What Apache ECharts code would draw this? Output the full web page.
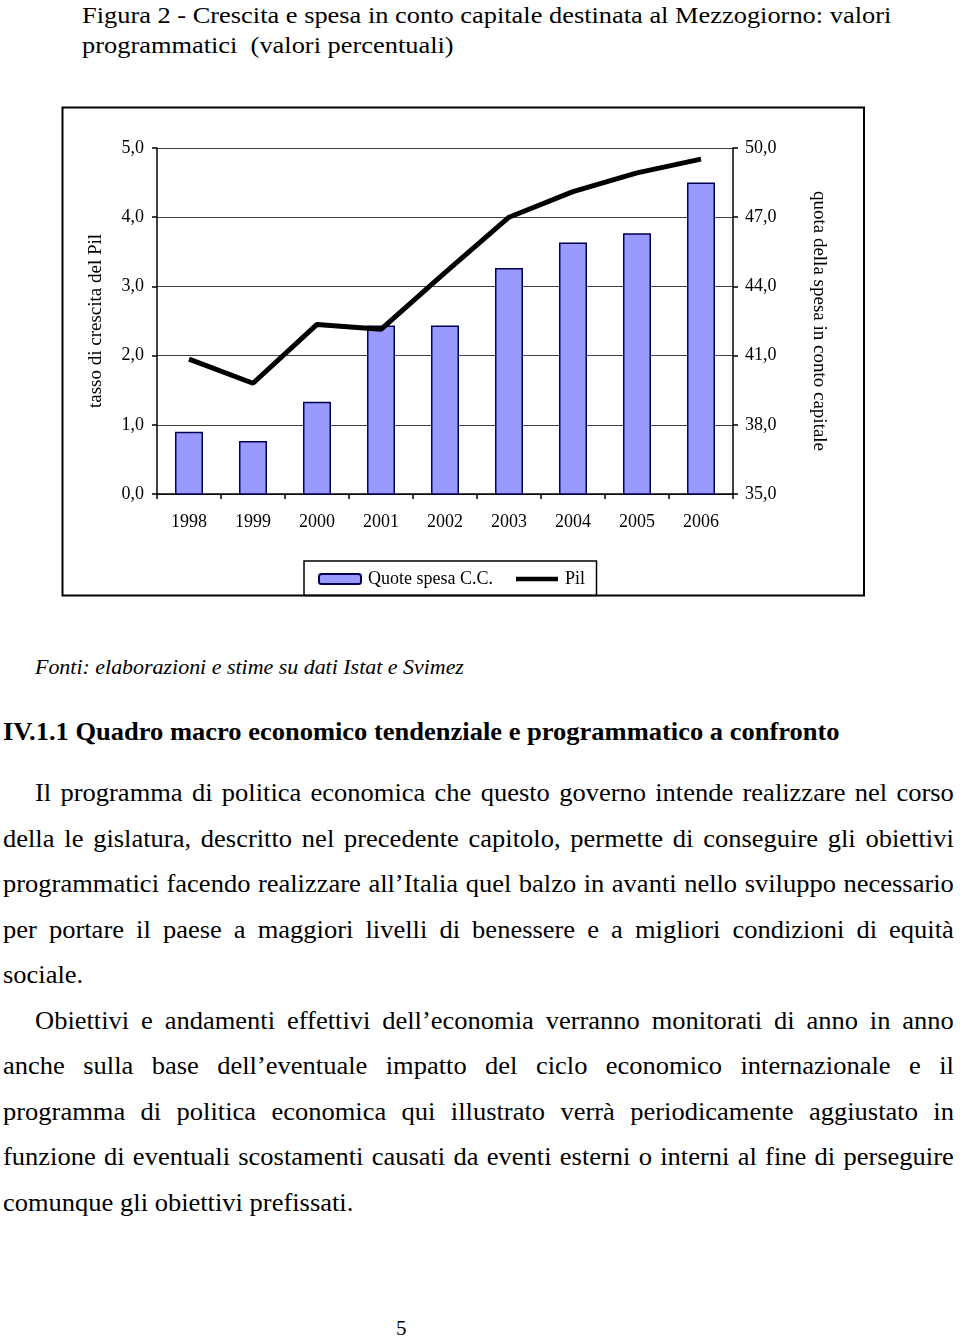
<!DOCTYPE html>
<html>
<head>
<meta charset="utf-8">
<script src="https://cdn.jsdelivr.net/npm/echarts@6/dist/echarts.min.js"></script>
<style>
  html, body { margin: 0; padding: 0; background: #fff; }
  body { width: 960px; height: 1336px; position: relative; overflow: hidden; font-family: 'Liberation Serif', 'Times New Roman', serif; color: #000; }
  #chart { position: absolute; left: 0; top: 0; width: 960px; height: 640px; }
  .abs { position: absolute; white-space: nowrap; transform-origin: 0 50%; }
  .title { left: 82px; top: 0px; font-size: 24px; line-height: 30px; transform: scaleX(1.1); }
  .fonti { left: 35px; top: 654px; font-size: 20.5px; line-height: 26px; font-style: italic; transform: scaleX(1.07); }
  .heading { left: 3px; top: 717px; font-size: 25px; line-height: 30px; font-weight: bold; transform: scaleX(1.06); }
  .line { position: absolute; display: flex; justify-content: space-between; font-size: 25px; line-height: 30px; white-space: nowrap; transform: scaleX(1.06); transform-origin: 0 50%; }
  .line.left { justify-content: flex-start; }
  .line.left span { margin-right: 0.25em; }
  .pagenum { left: 396px; top: 1315px; font-size: 21px; line-height: 26px; }
</style>
</head>
<body>
<div class="abs title">Figura 2 - Crescita e spesa in conto capitale destinata al Mezzogiorno: valori<br>programmatici&nbsp; (valori percentuali)</div>
<div id="chart"></div>
<div class="abs fonti">Fonti: elaborazioni e stime su dati Istat e Svimez</div>
<div class="abs heading">IV.1.1 Quadro macro economico tendenziale e programmatico a confronto</div>
<div id="text"></div>
<div class="abs pagenum">5</div>
<script>
// ---- chart data ----
const years = ['1998', '1999', '2000', '2001', '2002', '2003', '2004', '2005', '2006'];
const quoteSpesaCC = [37.7, 37.3, 39.0, 42.3, 42.3, 44.8, 45.9, 46.3, 48.5];
const pil = [1.95, 1.6, 2.45, 2.38, 3.2, 4.0, 4.37, 4.64, 4.84];
const leftTicks = { min: 0, max: 5, interval: 1 };
const rightTicks = { min: 35, max: 50, interval: 3 };

const serif = 'Liberation Serif';
const fmt = v => v.toFixed(1).replace('.', ',');

const chart = echarts.init(document.getElementById('chart'));
chart.setOption({
  animation: false,
  textStyle: { fontFamily: serif, color: '#000' },
  grid: { left: 157, right: 227, top: 148, bottom: 640 - 494, containLabel: false },
  legend: {
    left: 318, top: 570, padding: 0,
    itemWidth: 42, itemHeight: 10, itemGap: 23,
    textStyle: { fontFamily: serif, fontSize: 18, color: '#000', padding: [0, 0, 0, 2] },
    data: [
      { name: 'Quote spesa C.C.' },
      { name: 'Pil', icon: 'path://M0,0H46V5H0Z', itemStyle: { color: '#000' } }
    ]
  },
  xAxis: {
    type: 'category', data: years,
    axisLine: { lineStyle: { color: '#000', width: 1.5 } },
    axisTick: { show: true, length: 5, lineStyle: { color: '#000', width: 1.5 } },
    axisLabel: { fontFamily: serif, fontSize: 18, color: '#000', margin: 19 }
  },
  yAxis: [
    {
      type: 'value', position: 'left', min: leftTicks.min, max: leftTicks.max, interval: leftTicks.interval,
      name: 'tasso di crescita del Pil', nameLocation: 'middle', nameGap: 51, nameRotate: 90,
      nameTextStyle: { fontFamily: serif, fontSize: 19, color: '#000' },
      axisLine: { show: true, lineStyle: { color: '#000', width: 1.5 } },
      axisTick: { show: true, length: 5, lineStyle: { color: '#000', width: 1.5 } },
      axisLabel: { fontFamily: serif, fontSize: 18, color: '#000', margin: 13, formatter: fmt },
      splitLine: { show: true, lineStyle: { color: '#404040', width: 1 } }
    },
    {
      type: 'value', position: 'right', min: rightTicks.min, max: rightTicks.max, interval: rightTicks.interval,
      name: 'quota della spesa in conto capitale', nameLocation: 'middle', nameGap: 76, nameRotate: -90,
      nameTextStyle: { fontFamily: serif, fontSize: 19, color: '#000' },
      axisLine: { show: true, lineStyle: { color: '#000', width: 1.5 } },
      axisTick: { show: true, length: 5, lineStyle: { color: '#000', width: 1.5 } },
      axisLabel: { fontFamily: serif, fontSize: 18, color: '#000', margin: 12, formatter: fmt },
      splitLine: { show: false }
    }
  ],
  series: [
    {
      name: 'Quote spesa C.C.', type: 'bar', yAxisIndex: 1, data: quoteSpesaCC, barWidth: 28,
      itemStyle: { color: '#9999FF', borderColor: '#000050', borderWidth: 1.5 }
    },
    {
      name: 'Pil', type: 'line', yAxisIndex: 0, data: pil, symbol: 'none', z: 5,
      lineStyle: { color: '#000', width: 5 }, itemStyle: { color: '#000' }
    }
  ],
  graphic: [
    { type: 'rect', shape: { x: 62.5, y: 107.5, width: 801.5, height: 488 }, style: { fill: 'none', stroke: '#000', lineWidth: 2 }, silent: true },
    { type: 'rect', shape: { x: 304, y: 561, width: 292.5, height: 34.5 }, style: { fill: 'none', stroke: '#000', lineWidth: 1.5 }, silent: true }
  ]
});

// ---- body text (explicit lines as in the page) ----
const bodyLines = [
  { t: 'Il programma di politica economica che questo governo intende realizzare nel corso', indent: true, just: true },
  { t: 'della le gislatura, descritto nel precedente capitolo, permette di conseguire gli obiettivi', just: true },
  { t: 'programmatici facendo realizzare all’Italia quel balzo in avanti nello sviluppo necessario', just: true },
  { t: 'per portare il paese a maggiori livelli di benessere e a migliori condizioni di equità', just: true },
  { t: 'sociale.', just: false },
  { t: 'Obiettivi e andamenti effettivi dell’economia verranno monitorati di anno in anno', indent: true, just: true },
  { t: 'anche sulla base dell’eventuale impatto del ciclo economico internazionale e il', just: true },
  { t: 'programma di politica economica qui illustrato verrà periodicamente aggiustato in', just: true },
  { t: 'funzione di eventuali scostamenti causati da eventi esterni o interni al fine di perseguire', just: true },
  { t: 'comunque gli obiettivi prefissati.', just: false }
];
const SX = 1.06;
const host = document.getElementById('text');
bodyLines.forEach((ln, i) => {
  const d = document.createElement('div');
  d.className = 'line' + (ln.just ? '' : ' left');
  const left = ln.indent ? 35 : 3;
  d.style.left = left + 'px';
  d.style.width = ((954 - left) / SX) + 'px';
  d.style.top = (793 + i * 45.56 - 15) + 'px';
  ln.t.split(' ').forEach(w => {
    const s = document.createElement('span');
    s.textContent = w;
    d.appendChild(s);
  });
  host.appendChild(d);
});
</script>
</body>
</html>
